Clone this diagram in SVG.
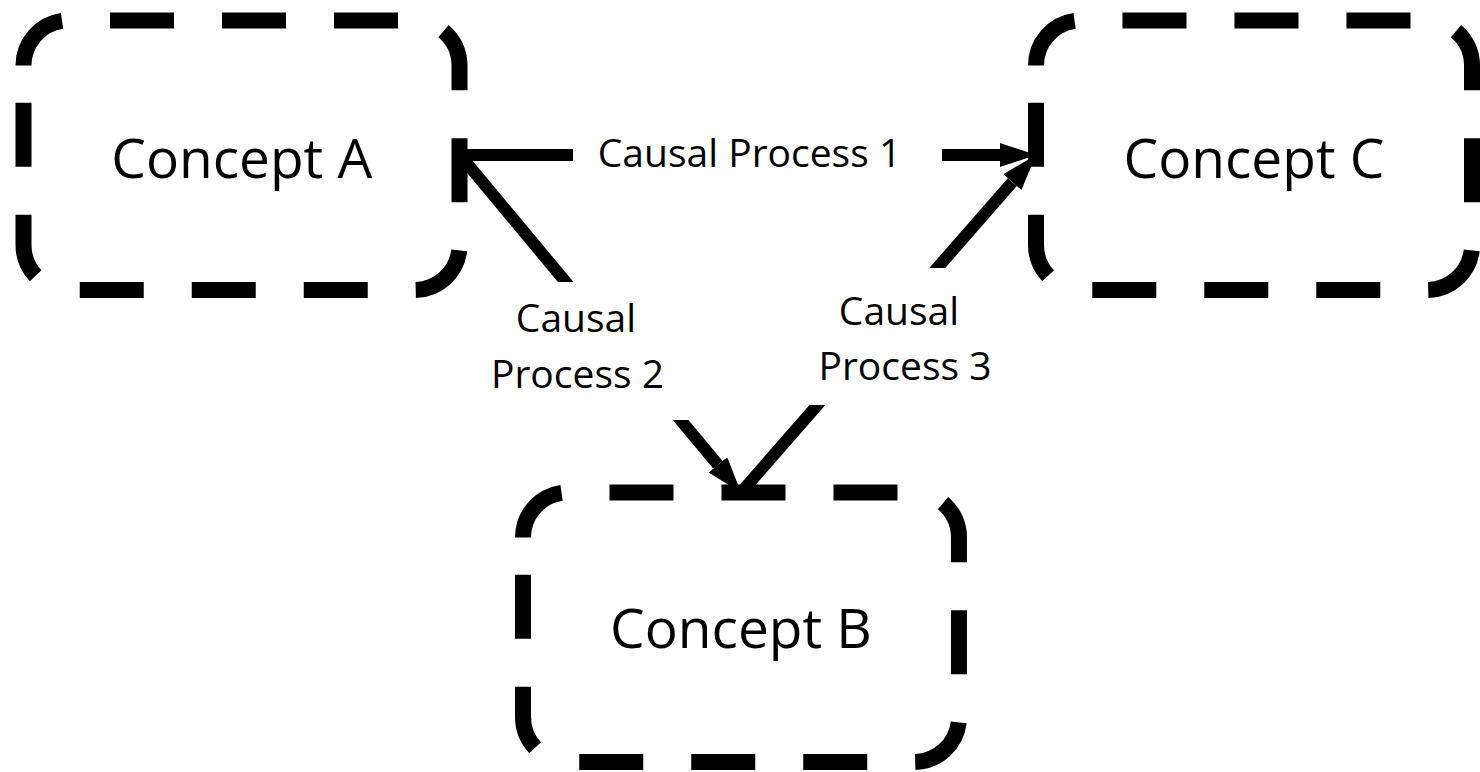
<svg xmlns="http://www.w3.org/2000/svg" width="1480" height="772" viewBox="0 0 1480 772">
  <style>
    .box { fill: none; stroke: #000; stroke-width: 16; stroke-dasharray: 64 48; stroke-linecap: butt; }
    .node-text { font-family: "Open Sans", "Noto Sans", "Liberation Sans", sans-serif; font-size: 55px; fill: #000; text-anchor: middle; }
    .edge { fill: none; stroke: #000; stroke-width: 12; stroke-linecap: butt; }
    .edge-label-bg { fill: #fff; stroke: none; }
    .edge-label { font-family: "Open Sans", "Noto Sans", "Liberation Sans", sans-serif; font-size: 39px; fill: #000; text-anchor: middle; }
  </style>
  <defs>
    <!-- rounded rectangle outline, path begins on the left side so the dash pattern starts at the top-left corner -->
    <path id="concept-frame" d="M0,44.9 A44.9,44.9 0 0 1 44.9,0 H391.1 A44.9,44.9 0 0 1 436,44.9 V224.6 A44.9,44.9 0 0 1 391.1,269.5 H44.9 A44.9,44.9 0 0 1 0,224.6 Z"/>
    <marker id="arrow" markerUnits="strokeWidth" viewBox="0 -1 3 2" markerWidth="3" markerHeight="2" refX="0" refY="0" orient="auto">
      <path d="M0,-1 L3,0 L0,1 Z" fill="#000"/>
    </marker>
  </defs>

  <rect width="1480" height="772" fill="#fff"/>

  <!-- connectors: each shaft stops at the arrowhead base; labels sit on white boxes that break the line -->
  <g id="connectors">
    <g id="causal-process-1">
      <line class="edge" x1="460" y1="155" x2="1000" y2="155" marker-end="url(#arrow)"/>
      <rect class="edge-label-bg" x="573" y="128" width="369" height="54"/>
      <text class="edge-label" x="749.5" y="167">Causal Process 1</text>
    </g>
    <g id="causal-process-2">
      <line class="edge" x1="460" y1="155" x2="717.97" y2="464.84" marker-end="url(#arrow)"/>
      <rect class="edge-label-bg" x="470" y="282" width="225" height="138"/>
      <text class="edge-label" x="576" y="332">Causal</text>
      <text class="edge-label" x="577.5" y="388">Process 2</text>
    </g>
    <g id="causal-process-3">
      <line class="edge" x1="741" y1="492.5" x2="1012.31" y2="182.1" marker-end="url(#arrow)"/>
      <rect class="edge-label-bg" x="805" y="268" width="200" height="137"/>
      <text class="edge-label" x="899" y="325">Causal</text>
      <text class="edge-label" x="905" y="380">Process 3</text>
    </g>
  </g>

  <g id="concept-a">
    <use href="#concept-frame" class="box" x="23.5" y="20.5"/>
    <text class="node-text" x="241.75" y="177.5">Concept A</text>
  </g>
  <g id="concept-c">
    <use href="#concept-frame" class="box" x="1036" y="20.5"/>
    <text class="node-text" x="1254" y="177.5">Concept C</text>
  </g>
  <g id="concept-b">
    <use href="#concept-frame" class="box" x="523" y="492.5"/>
    <text class="node-text" x="741" y="648">Concept B</text>
  </g>
</svg>
